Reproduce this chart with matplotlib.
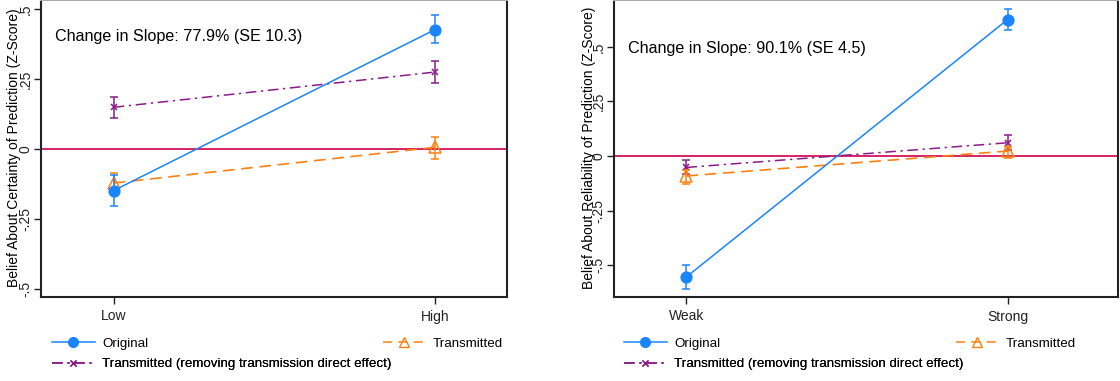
import matplotlib
matplotlib.use("Agg")
from matplotlib import pyplot as plt
from matplotlib.lines import Line2D

plt.rcParams['font.family'] = ['Liberation Sans', 'DejaVu Sans']

# data (point estimate, upper CI, lower CI)
left_cats = ["Low", "High"]
left_orig = [-0.148, 0.428]
left_orig_hi = [-0.093, 0.480]
left_orig_lo = [-0.203, 0.379]
left_trans = [-0.121, 0.007]
left_trans_hi = [-0.086, 0.043]
left_trans_lo = [-0.161, -0.035]
left_rm = [0.150, 0.276]
left_rm_hi = [0.187, 0.314]
left_rm_lo = [0.111, 0.238]

right_cats = ["Weak", "Strong"]
right_orig = [-0.553, 0.625]
right_orig_hi = [-0.497, 0.674]
right_orig_lo = [-0.608, 0.578]
right_trans = [-0.091, 0.023]
right_trans_hi = [-0.065, 0.041]
right_trans_lo = [-0.128, -0.011]
right_rm = [-0.052, 0.061]
right_rm_hi = [-0.020, 0.098]
right_rm_lo = [-0.084, 0.027]

yticks = [-0.5, -0.25, 0, 0.25, 0.5]
ytick_labels = ["-.5", "-.25", "0", ".25", ".5"]

BLUE = '#1a85ff'
ORANGE = '#ff8010'
PURPLE = '#8b1a8b'
RED = '#d41159'

W, H = 1120, 381


def errs(vals, hi, lo):
    return [[v - l for v, l in zip(vals, lo)], [h - v for v, h in zip(vals, hi)]]


def plotPanel(ax, cats, orig, orig_hi, orig_lo, trans, trans_hi, trans_lo,
              rm, rm_hi, rm_lo, xlim, ylim):
    xs = list(range(len(cats)))
    ax.axhline(0, color=RED, lw=1.3, zorder=1)

    ax.errorbar(xs, rm, yerr=errs(rm, rm_hi, rm_lo), color=PURPLE, lw=1.1,
                ls=(0, (7, 3, 1.5, 3)), marker='x', ms=5, mew=1.1,
                capsize=3, elinewidth=1.1, capthick=1.1, zorder=3)
    ax.errorbar(xs, trans, yerr=errs(trans, trans_hi, trans_lo), color=ORANGE, lw=1.2,
                ls=(0, (7, 4)), marker='^', ms=8, mfc='none', mew=1.1,
                capsize=3, elinewidth=1.1, capthick=1.1, zorder=4)
    ax.errorbar(xs, orig, yerr=errs(orig, orig_hi, orig_lo), color=BLUE, lw=1.1,
                marker='o', ms=7.8, capsize=3, elinewidth=1.1, capthick=1.1, zorder=5)

    ax.set_xlim(xlim)
    ax.set_ylim(ylim)
    ax.set_xticks(xs)
    ax.set_xticklabels(cats)
    ax.set_yticks(yticks)
    ax.set_yticklabels(ytick_labels, rotation=90, va='center')
    ax.tick_params(axis='both', length=5, width=1, labelsize=10, colors='#222222')
    ax.tick_params(axis='y', pad=1)
    ax.tick_params(axis='x', pad=4)
    for s in ['left', 'bottom', 'right']:
        ax.spines[s].set_linewidth(1.5)
        ax.spines[s].set_color('#222222')
    ax.spines['top'].set_color('#aaaaaa')
    ax.spines['top'].set_linewidth(1.5)


def addLegends(ax, x_orig, x_trans, x_rm):
    h_orig = Line2D([], [], color=BLUE, lw=1.1, marker='o', ms=7)
    h_trans = Line2D([], [], color=ORANGE, lw=1.1, ls=(0, (6, 4)), marker='^',
                     ms=7, mfc='none')
    h_rm = Line2D([], [], color=PURPLE, lw=1.1, ls=(0, (7, 3, 1.5, 3)), marker='x', ms=4.5)
    kw = dict(frameon=False, fontsize=9.6, handlelength=3.2, handletextpad=0.55,
              borderpad=0, borderaxespad=0, loc='center left')
    specs = [(h_orig, "Original", x_orig, 344), (h_trans, "Transmitted", x_trans, 344),
             (h_rm, "Transmitted (removing transmission direct effect)", x_rm, 364)]
    for h, lab, px, py in specs:
        lg = ax.legend([h], [lab], bbox_to_anchor=(px / W, 1 - py / H),
                       bbox_transform=fig.transFigure, **kw)
        ax.add_artist(lg)


fig = plt.figure(figsize=(W / 100, H / 100), dpi=100)

ax1 = fig.add_axes([41 / W, 84 / H, 466 / W, 296.5 / H])
plotPanel(ax1, left_cats, left_orig, left_orig_hi, left_orig_lo,
          left_trans, left_trans_hi, left_trans_lo,
          left_rm, left_rm_hi, left_rm_lo,
          (-0.226, 1.224), (-0.5286, 0.532))

ax2 = fig.add_axes([614 / W, 84 / H, 504 / W, 296.5 / H])
plotPanel(ax2, right_cats, right_orig, right_orig_hi, right_orig_lo,
          right_trans, right_trans_hi, right_trans_lo,
          right_rm, right_rm_hi, right_rm_lo,
          (-0.2255, 1.3436), (-0.645, 0.712))

fig.text(14 / W, 1 - 148 / H, "Belief About Certainty of Prediction (Z-Score)",
         rotation=90, ha='center', va='center', fontsize=10)
fig.text(589 / W, 1 - 148 / H, "Belief About Reliability of Prediction (Z-Score)",
         rotation=90, ha='center', va='center', fontsize=10)

fig.text(55 / W, 1 - 37 / H, "Change in Slope: 77.9% (SE 10.3)",
         ha='left', va='center', fontsize=11.6)
fig.text(628 / W, 1 - 49 / H, "Change in Slope: 90.1% (SE 4.5)",
         ha='left', va='center', fontsize=11.6)

addLegends(ax1, 52, 383, 52)
addLegends(ax2, 624, 956, 624)

fig.savefig("out.png", dpi=100)
